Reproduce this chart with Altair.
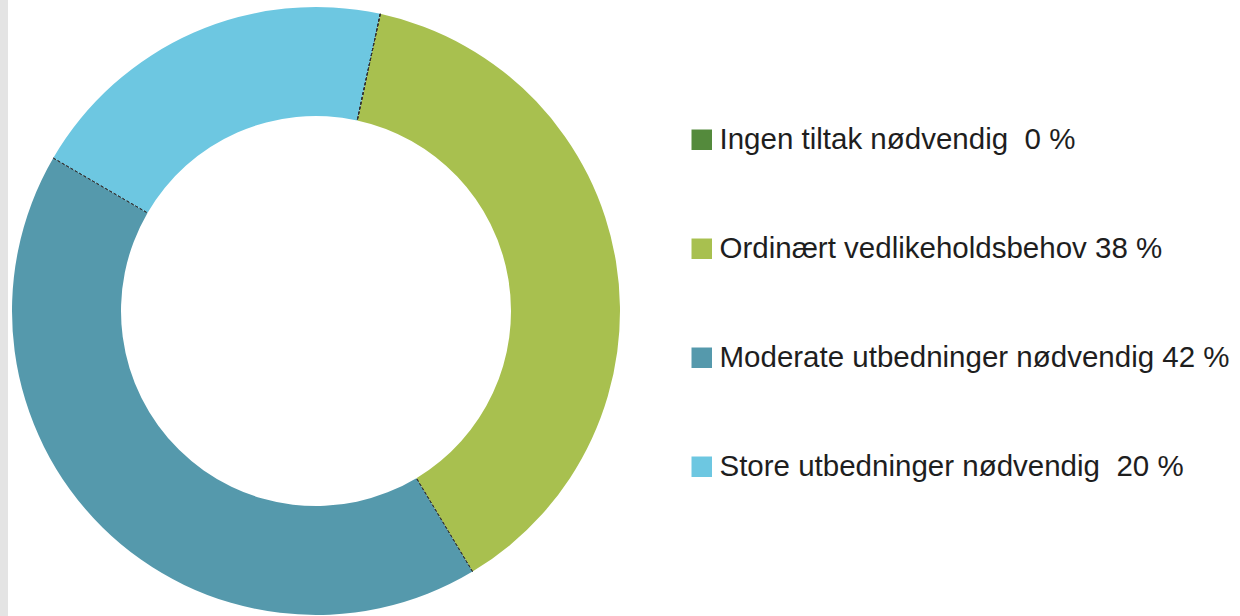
import math
import altair as alt
import pandas as pd

categories = [
    "Ingen tiltak nødvendig\u00a0 0 %",
    "Ordinært vedlikeholdsbehov 38 %",
    "Moderate utbedninger nødvendig 42 %",
    "Store utbedninger nødvendig\u00a0 20 %",
]
values = [0, 38, 42, 20]
colors = ["#548a3c", "#a8c04f", "#5599ac", "#6dc7e1"]
order = [0, 1, 2, 3]

df = pd.DataFrame({"cat": categories, "value": values, "order": order})

start = 0.213
theta_scale = alt.Scale(domain=[0, 100], range=[start, start + 2 * math.pi])

base = (
    alt.Chart(df)
    .transform_window(cum="sum(value)", sort=[alt.SortField("order")], frame=[None, 0])
    .transform_calculate(prev="datum.cum - datum.value")
)

cx, cy, r_out, r_in = 316, 311, 304, 195

arcs = base.mark_arc(x=cx, y=cy, outerRadius=r_out, innerRadius=r_in, strokeWidth=0).encode(
    theta=alt.Theta("prev:Q", scale=theta_scale),
    theta2="cum:Q",
    color=alt.Color(
        "cat:N",
        scale=alt.Scale(domain=categories, range=colors),
        legend=alt.Legend(
            title=None,
            orient="none",
            legendX=687,
            legendY=125,
            symbolType="square",
            symbolSize=420,
            symbolStrokeWidth=0,
            symbolOpacity=1,
            labelFontSize=29.5,
            labelFont="Liberation Sans",
            labelColor="#1e1e1e",
            labelOffset=3,
            rowPadding=78,
            labelLimit=0,
        ),
    ),
)

seps = base.mark_arc(
    x=cx, y=cy, outerRadius=r_out, innerRadius=r_in,
    fillOpacity=0, stroke="#333333", strokeWidth=1, strokeDash=[3, 2],
).encode(
    theta=alt.Theta("prev:Q", scale=theta_scale),
    theta2="prev:Q",
)

strip = alt.Chart(pd.DataFrame({"a": [0]})).mark_rect(color="#e4e4e4").encode(
    x=alt.value(0), x2=alt.value(8), y=alt.value(0), y2=alt.value(616)
)

chart = (
    alt.layer(strip, arcs, seps)
    .properties(width=1240, height=616, autosize="none", padding=0, background="white")
    .configure_view(stroke=None)
)

chart.save("out.html", embed_options={"renderer": "svg", "actions": False})
